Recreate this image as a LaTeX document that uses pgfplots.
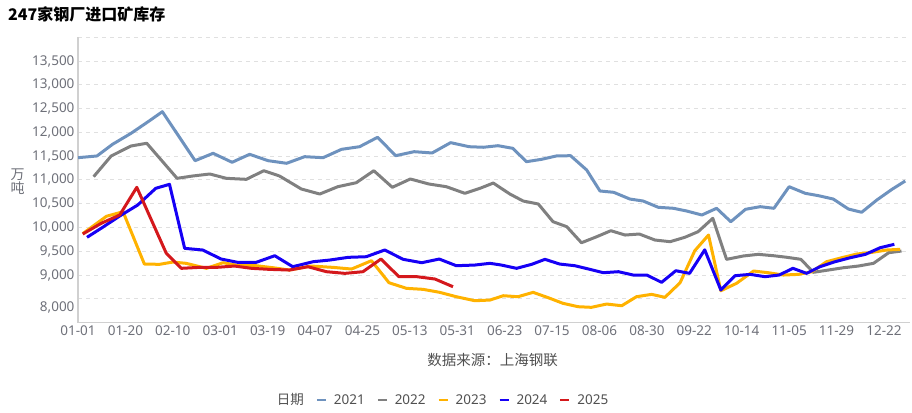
\documentclass[border=0pt]{standalone}
\usepackage{pgfplots}
\pgfplotsset{compat=1.18}
\usepackage{fontspec}
\setmainfont{Noto Sans}
\newfontfamily\cjk{Noto Sans CJK SC}
\definecolor{c21}{RGB}{110,146,190}
\definecolor{c22}{RGB}{128,128,128}
\definecolor{c23}{RGB}{255,178,0}
\definecolor{c24}{RGB}{22,0,245}
\definecolor{c25}{RGB}{212,24,28}
\definecolor{tickgray}{RGB}{110,112,121}
\definecolor{gridgray}{RGB}{224,224,224}
\definecolor{axgray}{RGB}{208,208,208}
\definecolor{legtext}{RGB}{80,80,80}
\begin{document}
\begin{tikzpicture}
\path[use as bounding box] (0pt,0pt) rectangle (912pt,412pt);
\node[anchor=west, inner sep=0pt, font=\cjk\bfseries\fontsize{16}{18}\selectfont] at (8pt,398pt) {247家钢厂进口矿库存};
\node[align=center, inner sep=0pt, font=\cjk\fontsize{14}{14.5}\selectfont, text=tickgray] at (17.5pt,230.5pt) {万\\吨};
\node[inner sep=0pt, font=\cjk\fontsize{14.5}{16}\selectfont, text=legtext] at (492.5pt,52pt) {数据来源：上海钢联};
\begin{axis}[
  at={(78pt,89.4pt)}, anchor=south west,
  width=832pt, height=285.4pt, scale only axis,
  xmin=0, xmax=17.55, ymin=8000, ymax=14000,
  scaled y ticks=false,
  axis x line*=bottom, axis y line*=left,
  axis line style={draw=axgray, line width=1.5pt},
  xtick={0,...,17},
  xticklabels={01-01,01-20,02-10,03-01,03-19,04-07,04-25,05-13,05-31,06-23,07-15,08-06,08-30,09-22,10-14,11-05,11-29,12-22},
  ytick={8500,9000,...,14000},
  yticklabels={{},{9,000},{9,500},{10,000},{10,500},{11,000},{11,500},{12,000},{12,500},{13,000},{13,500},{}},
  extra y ticks={8000}, extra y tick labels={8{,}000},
  extra y tick style={grid=none, yticklabel style={yshift=15pt}},
  ymajorgrids,
  grid style={draw=gridgray, dash pattern=on 4pt off 4pt, line width=0.8pt},
  major tick length=0pt,
  tick label style={font=\fontsize{13.5}{16}\selectfont, text=tickgray},
  every axis plot/.append style={line width=3pt, line join=round, mark=none},
  legend columns=-1,
  legend style={at={(0.2304,-0.2712)}, anchor=west, draw=none, fill=none, inner sep=0pt,
    font=\fontsize{13.5}{16}\selectfont, text=legtext, nodes={inner sep=0pt},
    /tikz/every odd column/.style={column sep=7pt},
    /tikz/every even column/.style={column sep=12pt}},
  legend image code/.code={\draw[#1, line width=2pt] (0pt,0pt) -- (9pt,0pt);},
]
\addlegendimage{empty legend}
\addlegendentry{\cjk 日期\hspace{8pt}}
% 2021
\addplot[c21] coordinates {
(0,11467)(0.40,11503)(0.73,11749)(1.12,11980)(1.51,12245)(1.78,12434)(2.47,11404)(2.85,11559)(3.25,11370)(3.62,11538)(4.01,11404)(4.40,11349)(4.78,11488)(5.17,11467)(5.56,11643)(5.94,11698)(6.32,11896)(6.70,11509)(7.09,11593)(7.47,11566)(7.86,11783)(8.25,11698)(8.55,11686)(8.86,11719)(9.17,11664)(9.46,11383)(9.78,11433)(10.09,11503)(10.39,11509)(10.73,11208)(11.01,10767)(11.30,10739)(11.64,10598)(11.92,10556)(12.24,10424)(12.56,10403)(12.84,10346)(13.16,10262)(13.47,10403)(13.77,10121)(14.08,10382)(14.39,10437)(14.68,10403)(15.00,10857)(15.34,10718)(15.62,10668)(15.93,10598)(16.25,10388)(16.53,10319)(16.85,10577)(17.17,10802)(17.45,10977)
};
\addlegendentry{2021}
% 2022
\addplot[c22] coordinates {
(0.33,11068)(0.70,11503)(1.12,11713)(1.45,11770)(2.09,11033)(2.42,11082)(2.78,11124)(3.13,11033)(3.55,11012)(3.92,11193)(4.25,11082)(4.71,10809)(5.10,10703)(5.48,10857)(5.87,10941)(6.24,11193)(6.63,10844)(7.01,11019)(7.40,10914)(7.77,10857)(8.16,10718)(8.48,10823)(8.76,10934)(9.11,10703)(9.39,10556)(9.71,10493)(10.02,10121)(10.31,10016)(10.62,9679)(10.94,9805)(11.24,9932)(11.54,9841)(11.84,9862)(12.17,9736)(12.49,9701)(12.80,9793)(13.08,9911)(13.39,10192)(13.68,9330)(14.03,9400)(14.35,9435)(14.67,9406)(14.96,9372)(15.25,9330)(15.51,9057)(15.83,9105)(16.15,9154)(16.46,9189)(16.78,9246)(17.10,9469)(17.37,9505)
};
\addlegendentry{2022}
% 2023
\addplot[c23] coordinates {
(0.10,9870)(0.60,10235)(0.95,10331)(1.40,9231)(1.72,9225)(2.00,9273)(2.28,9246)(2.71,9141)(3.06,9259)(3.41,9196)(3.76,9196)(4.11,9154)(4.46,9105)(4.92,9189)(5.38,9161)(5.77,9126)(6.19,9301)(6.56,8838)(6.93,8720)(7.28,8699)(7.63,8636)(7.98,8544)(8.37,8460)(8.69,8474)(8.97,8565)(9.28,8544)(9.60,8636)(9.92,8523)(10.23,8405)(10.55,8334)(10.83,8321)(11.15,8390)(11.47,8355)(11.78,8544)(12.10,8594)(12.38,8531)(12.70,8838)(13.01,9511)(13.30,9841)(13.56,8670)(13.89,8825)(14.25,9084)(14.56,9049)(14.88,9000)(15.20,9014)(15.48,9070)(15.79,9280)(16.11,9364)(16.43,9442)(16.75,9477)(17.06,9526)(17.34,9540)
};
\addlegendentry{2023}
% 2024
\addplot[c24] coordinates {
(0.19,9793)(0.52,10003)(0.88,10241)(1.26,10472)(1.64,10823)(1.93,10907)(2.25,9561)(2.63,9526)(3.02,9336)(3.37,9267)(3.76,9267)(4.15,9406)(4.53,9175)(4.96,9280)(5.31,9315)(5.70,9372)(6.08,9385)(6.47,9526)(6.86,9330)(7.25,9259)(7.62,9336)(7.98,9196)(8.37,9210)(8.69,9246)(8.93,9210)(9.25,9141)(9.57,9225)(9.85,9330)(10.16,9231)(10.48,9196)(10.80,9119)(11.08,9049)(11.40,9070)(11.71,9000)(12.00,9000)(12.31,8846)(12.61,9091)(12.90,9035)(13.22,9530)(13.56,8685)(13.86,8986)(14.18,9014)(14.49,8965)(14.79,9000)(15.08,9141)(15.37,9035)(15.65,9175)(15.97,9280)(16.29,9364)(16.61,9435)(16.92,9574)(17.22,9646)
};
\addlegendentry{2024}
% 2025
\addplot[c25] coordinates {
(0.10,9862)(0.49,10087)(0.88,10262)(1.24,10844)(1.86,9462)(2.18,9141)(2.56,9161)(2.92,9161)(3.30,9189)(3.66,9141)(4.04,9119)(4.46,9105)(4.85,9175)(5.24,9070)(5.63,9035)(6.01,9070)(6.39,9336)(6.77,8965)(7.15,8965)(7.53,8916)(7.91,8754)
};
\addlegendentry{2025}
\end{axis}
\end{tikzpicture}
\end{document}
